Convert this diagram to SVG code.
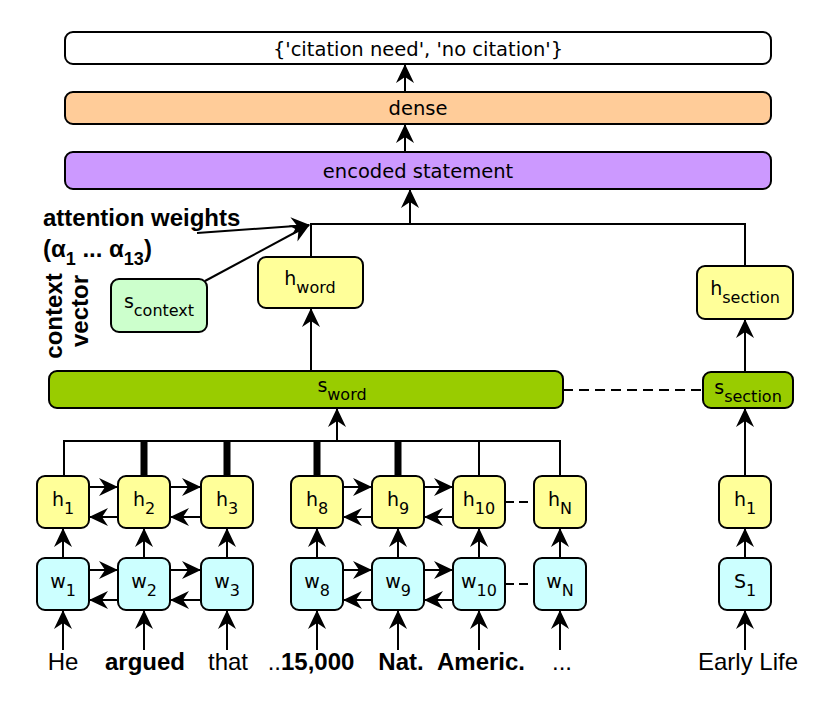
<svg xmlns="http://www.w3.org/2000/svg" width="834" height="713" viewBox="0 0 834 713">
<style>
.box{stroke:#000;stroke-width:2}
.white{fill:#fff}.orange{fill:#ffcc99}.purple{fill:#cc99ff}.yellow{fill:#ffff99}.cyan{fill:#ccffff}.lgreen{fill:#ccffcc}.green{fill:#99cc00}
.lbl{font-family:"DejaVu Sans",sans-serif;font-size:19px;fill:#000;text-anchor:middle}
.top{font-family:"DejaVu Sans",sans-serif;font-size:19.5px;fill:#000;text-anchor:middle}
.sub{font-size:16px}
.word{font-family:"Liberation Sans",Arial,sans-serif;font-size:24px;fill:#000;text-anchor:middle}
.b{font-weight:bold}
.note{font-family:"Liberation Sans",Arial,sans-serif;font-size:24px;font-weight:bold;fill:#000}
.ln{stroke:#000;stroke-width:2;fill:none}
.arr{stroke:#000;stroke-width:2;fill:none;marker-end:url(#ah)}
.dash{stroke:#000;stroke-width:2;fill:none;stroke-dasharray:10,6}
</style>
<defs>
<marker id="ah" markerUnits="userSpaceOnUse" markerWidth="22" markerHeight="22" viewBox="0 0 22 22" refX="19" refY="11" orient="auto">
<path d="M1,2 L20,11 L1,20 L7,11 Z" fill="#000"/>
</marker>
</defs>

<g id="output">
<rect class="box white" x="65" y="32" width="706" height="32" rx="8"/>
<text class="top" x="418" y="56">{'citation need', 'no citation'}</text>
</g>
<g id="dense">
<rect class="box orange" x="65" y="92" width="706" height="32" rx="8"/>
<text class="top" x="418" y="115">dense</text>
</g>
<g id="encoded">
<rect class="box purple" x="65" y="152" width="706" height="37" rx="8"/>
<text class="top" x="418" y="178">encoded statement</text>
</g>

<g id="annotations">
<text class="note" x="43" y="226">attention weights</text>
<text class="note" x="43" y="257">(α<tspan font-size="18" dy="8">1</tspan><tspan dy="-8"> ... α</tspan><tspan font-size="18" dy="8">13</tspan><tspan dy="-8">)</tspan></text>
<text class="note" text-anchor="middle" transform="translate(62,316) rotate(-90)">context</text>
<text class="note" text-anchor="middle" transform="translate(88,311) rotate(-90)">vector</text>
</g>

<g id="s_context">
<rect class="box lgreen" x="111" y="279" width="96" height="53" rx="8"/>
<text class="lbl" x="159" y="308">s<tspan class="sub" dy="8">context</tspan></text>
</g>
<g id="h_word">
<rect class="box yellow" x="258" y="257" width="105" height="51" rx="8"/>
<text class="lbl" x="310" y="285">h<tspan class="sub" dy="8">word</tspan></text>
</g>
<g id="h_section">
<rect class="box yellow" x="697" y="266" width="96" height="53" rx="8"/>
<text class="lbl" x="745" y="295">h<tspan class="sub" dy="8">section</tspan></text>
</g>
<g id="s_word">
<rect class="box green" x="49" y="371" width="514" height="37" rx="8"/>
<text class="lbl" x="342" y="392">s<tspan class="sub" dy="8">word</tspan></text>
</g>
<g id="s_section">
<rect class="box green" x="703" y="372" width="90" height="36" rx="8"/>
<text class="lbl" x="748" y="394">s<tspan class="sub" dy="8">section</tspan></text>
</g>

<g id="h1"><rect class="box yellow" x="37" y="476" width="52" height="52" rx="8"/><text class="lbl" x="63" y="506">h<tspan class="sub" dy="8">1</tspan></text></g>
<g id="h2"><rect class="box yellow" x="118" y="476" width="52" height="52" rx="8"/><text class="lbl" x="144" y="506">h<tspan class="sub" dy="8">2</tspan></text></g>
<g id="h3"><rect class="box yellow" x="201" y="476" width="52" height="52" rx="8"/><text class="lbl" x="227" y="506">h<tspan class="sub" dy="8">3</tspan></text></g>
<g id="h8"><rect class="box yellow" x="291" y="476" width="52" height="52" rx="8"/><text class="lbl" x="317" y="506">h<tspan class="sub" dy="8">8</tspan></text></g>
<g id="h9"><rect class="box yellow" x="372" y="476" width="52" height="52" rx="8"/><text class="lbl" x="398" y="506">h<tspan class="sub" dy="8">9</tspan></text></g>
<g id="h10"><rect class="box yellow" x="453" y="476" width="52" height="52" rx="8"/><text class="lbl" x="479" y="506">h<tspan class="sub" dy="8">10</tspan></text></g>
<g id="hN"><rect class="box yellow" x="534" y="476" width="52" height="52" rx="8"/><text class="lbl" x="560" y="506">h<tspan class="sub" dy="8">N</tspan></text></g>
<g id="h1_section"><rect class="box yellow" x="719" y="476" width="52" height="52" rx="8"/><text class="lbl" x="745" y="506">h<tspan class="sub" dy="8">1</tspan></text></g>

<g id="w1"><rect class="box cyan" x="37" y="558" width="52" height="52" rx="8"/><text class="lbl" x="63" y="588">w<tspan class="sub" dy="8">1</tspan></text></g>
<g id="w2"><rect class="box cyan" x="118" y="558" width="52" height="52" rx="8"/><text class="lbl" x="144" y="588">w<tspan class="sub" dy="8">2</tspan></text></g>
<g id="w3"><rect class="box cyan" x="201" y="558" width="52" height="52" rx="8"/><text class="lbl" x="227" y="588">w<tspan class="sub" dy="8">3</tspan></text></g>
<g id="w8"><rect class="box cyan" x="291" y="558" width="52" height="52" rx="8"/><text class="lbl" x="317" y="588">w<tspan class="sub" dy="8">8</tspan></text></g>
<g id="w9"><rect class="box cyan" x="372" y="558" width="52" height="52" rx="8"/><text class="lbl" x="398" y="588">w<tspan class="sub" dy="8">9</tspan></text></g>
<g id="w10"><rect class="box cyan" x="453" y="558" width="52" height="52" rx="8"/><text class="lbl" x="479" y="588">w<tspan class="sub" dy="8">10</tspan></text></g>
<g id="wN"><rect class="box cyan" x="534" y="558" width="52" height="52" rx="8"/><text class="lbl" x="560" y="588">w<tspan class="sub" dy="8">N</tspan></text></g>
<g id="S1"><rect class="box cyan" x="719" y="558" width="52" height="52" rx="8"/><text class="lbl" x="745" y="588">S<tspan class="sub" dy="8">1</tspan></text></g>

<g id="words">
<text class="word" x="63" y="670">He</text>
<text class="word b" x="145" y="670">argued</text>
<text class="word" x="228" y="670">that</text>
<text class="word" x="311" y="670">..<tspan class="b">15,000</tspan></text>
<text class="word b" x="401" y="670">Nat.</text>
<text class="word b" x="481" y="670">Americ.</text>
<text class="word" x="562" y="670">...</text>
<text class="word" x="748" y="670">Early Life</text>
</g>

<g id="connectors">
<line class="arr" x1="405" y1="92" x2="405" y2="65"/>
<line class="arr" x1="405" y1="152" x2="405" y2="125"/>
<line class="arr" x1="410" y1="224" x2="410" y2="190"/>
<polyline class="ln" points="311,257 311,224 745,224 745,266"/>
<line class="arr" x1="197" y1="233" x2="309" y2="225"/>
<line class="arr" x1="205" y1="281" x2="309" y2="225"/>
<line class="arr" x1="311" y1="371" x2="311" y2="309"/>
<line class="arr" x1="745" y1="372" x2="745" y2="320"/>
<line class="arr" x1="745" y1="476" x2="745" y2="409"/>
<line class="dash" x1="563" y1="390" x2="703" y2="390"/>
<polyline class="ln" points="64,476 64,441 560,441 560,476"/>
<line class="ln" x1="479" y1="441" x2="479" y2="476"/>
<rect x="140.5" y="442" width="7" height="34" fill="#000"/>
<rect x="223.5" y="442" width="7" height="34" fill="#000"/>
<rect x="313.5" y="442" width="7" height="34" fill="#000"/>
<rect x="394.5" y="442" width="7" height="34" fill="#000"/>
<line class="arr" x1="337" y1="441" x2="337" y2="409"/>
<line class="arr" x1="89" y1="487" x2="117" y2="487"/>
<line class="arr" x1="118" y1="517" x2="90" y2="517"/>
<line class="arr" x1="170" y1="487" x2="200" y2="487"/>
<line class="arr" x1="201" y1="517" x2="171" y2="517"/>
<line class="arr" x1="343" y1="487" x2="371" y2="487"/>
<line class="arr" x1="372" y1="517" x2="344" y2="517"/>
<line class="arr" x1="424" y1="487" x2="452" y2="487"/>
<line class="arr" x1="453" y1="517" x2="425" y2="517"/>
<line class="dash" x1="505" y1="502" x2="534" y2="502" style="stroke-dasharray:9,5"/>
<line class="arr" x1="89" y1="570" x2="117" y2="570"/>
<line class="arr" x1="118" y1="600" x2="90" y2="600"/>
<line class="arr" x1="170" y1="570" x2="200" y2="570"/>
<line class="arr" x1="201" y1="600" x2="171" y2="600"/>
<line class="arr" x1="343" y1="570" x2="371" y2="570"/>
<line class="arr" x1="372" y1="600" x2="344" y2="600"/>
<line class="arr" x1="424" y1="570" x2="452" y2="570"/>
<line class="arr" x1="453" y1="600" x2="425" y2="600"/>
<line class="dash" x1="505" y1="584" x2="534" y2="584" style="stroke-dasharray:9,5"/>
<line class="arr" x1="63" y1="558" x2="63" y2="529"/>
<line class="arr" x1="144" y1="558" x2="144" y2="529"/>
<line class="arr" x1="227" y1="558" x2="227" y2="529"/>
<line class="arr" x1="317" y1="558" x2="317" y2="529"/>
<line class="arr" x1="398" y1="558" x2="398" y2="529"/>
<line class="arr" x1="479" y1="558" x2="479" y2="529"/>
<line class="arr" x1="560" y1="558" x2="560" y2="529"/>
<line class="arr" x1="745" y1="558" x2="745" y2="529"/>
<line class="arr" x1="63" y1="650" x2="63" y2="611"/>
<line class="arr" x1="144" y1="650" x2="144" y2="611"/>
<line class="arr" x1="227" y1="650" x2="227" y2="611"/>
<line class="arr" x1="317" y1="650" x2="317" y2="611"/>
<line class="arr" x1="398" y1="650" x2="398" y2="611"/>
<line class="arr" x1="479" y1="650" x2="479" y2="611"/>
<line class="arr" x1="560" y1="650" x2="560" y2="611"/>
<line class="arr" x1="745" y1="650" x2="745" y2="611"/>
</g>
</svg>
